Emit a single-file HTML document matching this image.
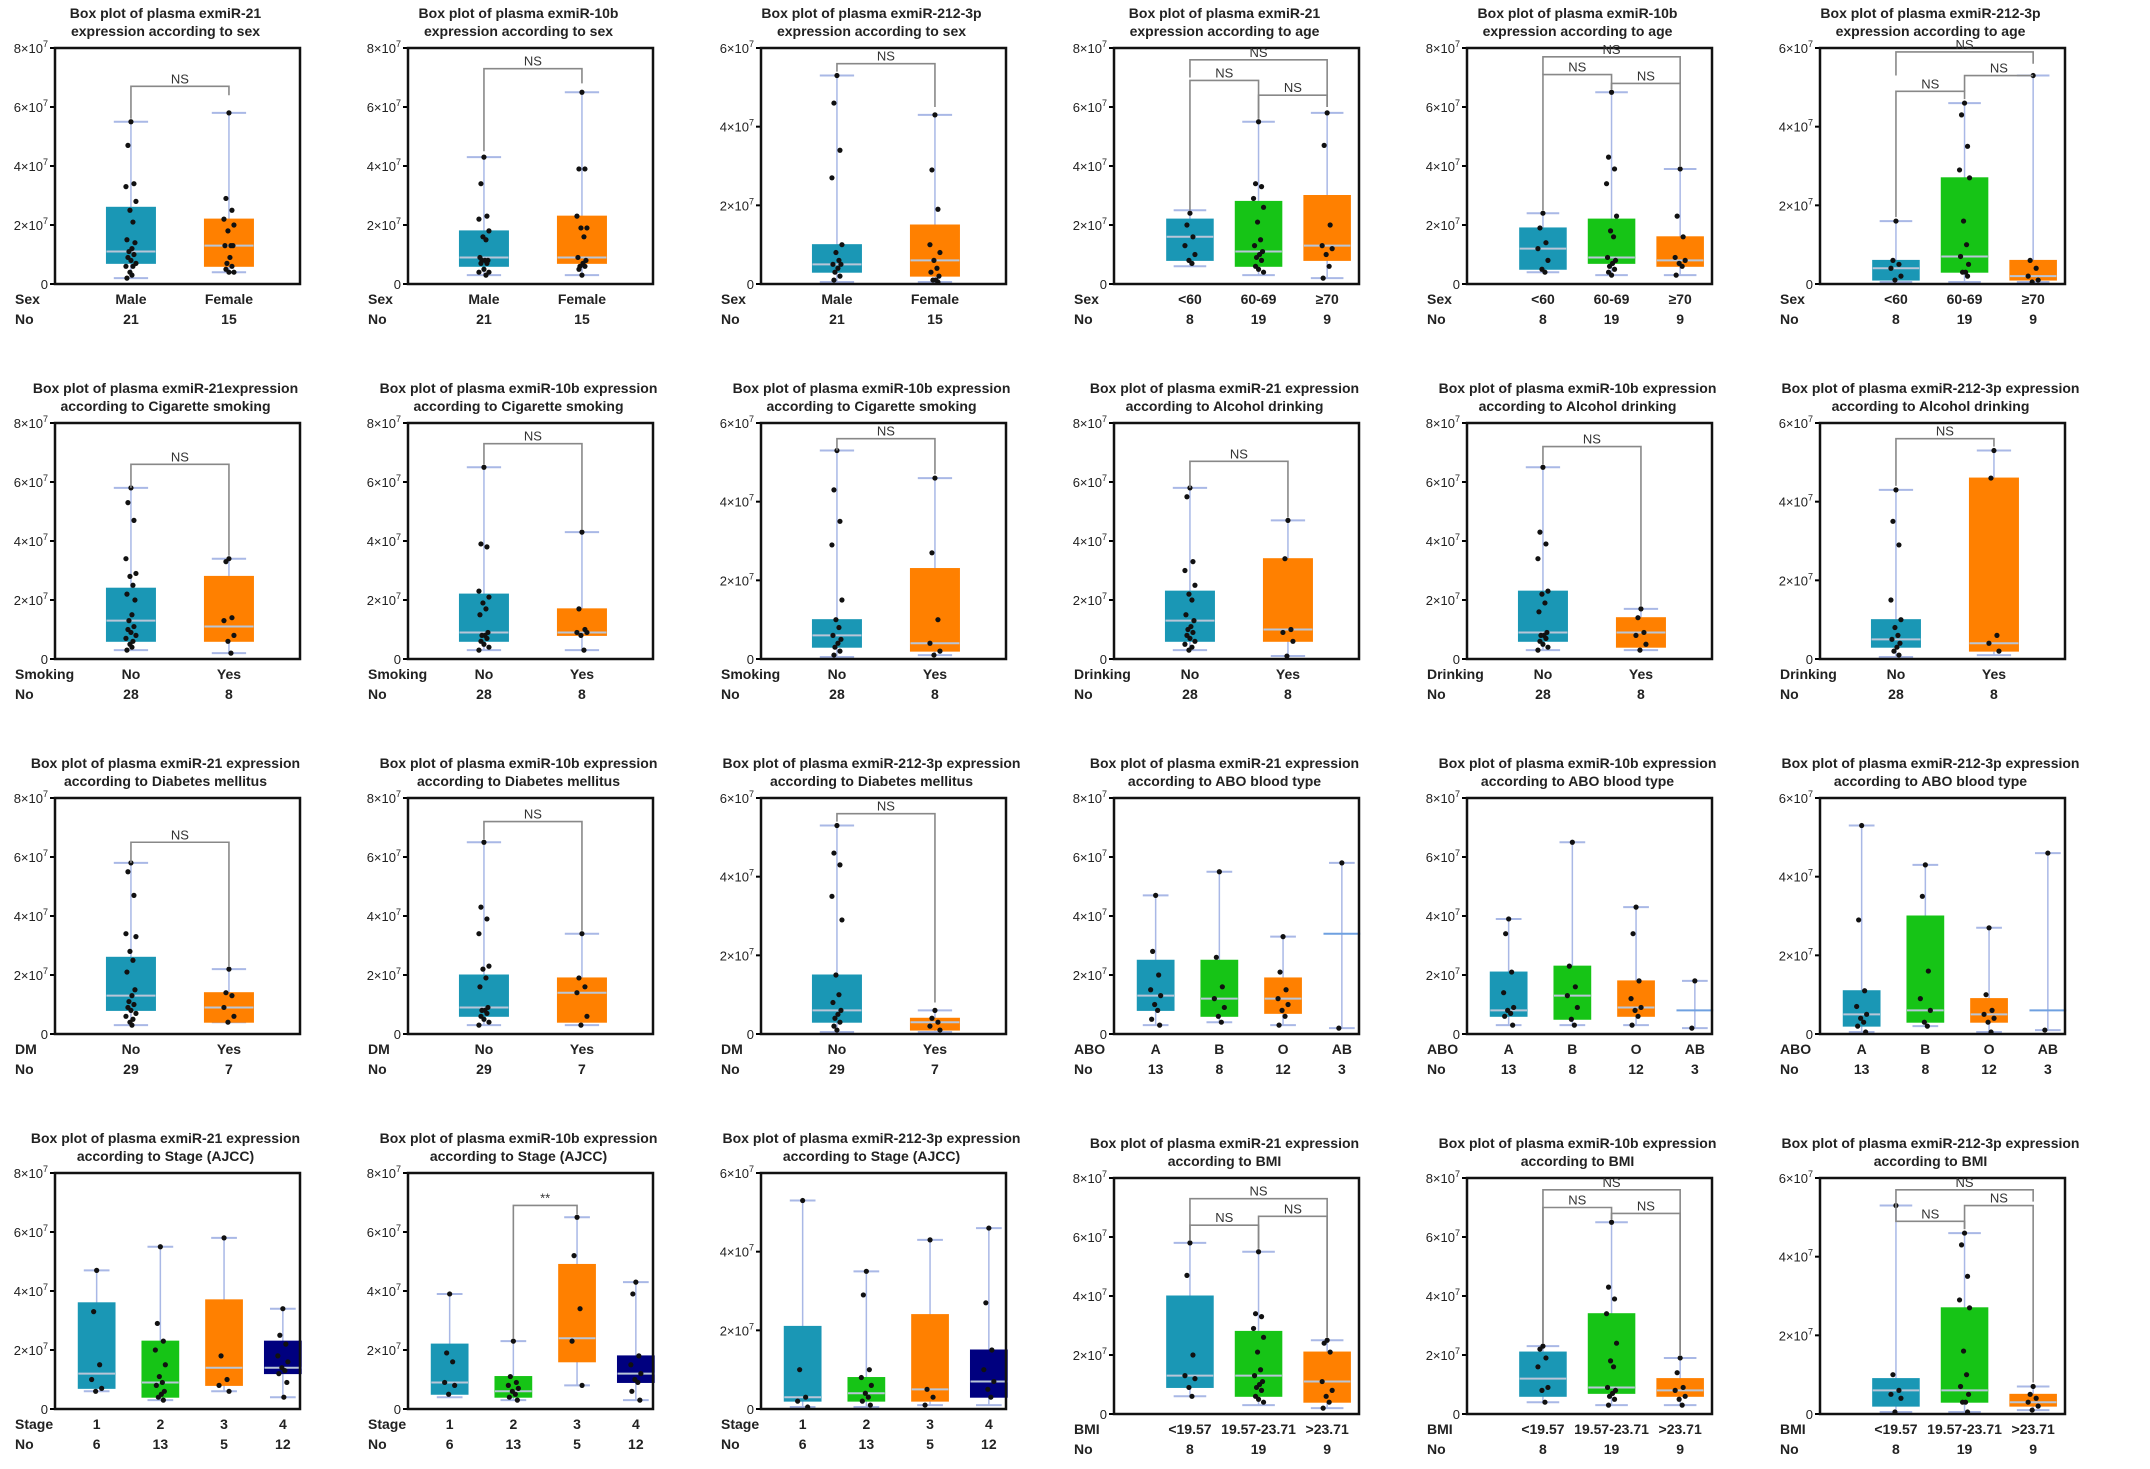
<!DOCTYPE html>
<html><head><meta charset="utf-8">
<style>
html,body{margin:0;padding:0;background:#fff;}
svg{display:block;font-family:"Liberation Sans",Arial,sans-serif;}
</style></head>
<body>
<svg id="fig" width="2150" height="1469" viewBox="0 0 2150 1469" xmlns="http://www.w3.org/2000/svg"></svg>
<script>
// ---- data (values in units of 1e7) ----
const titles = [
["Box plot of plasma exmiR-21","expression according to sex"],
["Box plot of plasma exmiR-10b","expression according to sex"],
["Box plot of plasma exmiR-212-3p","expression according to sex"],
["Box plot of plasma exmiR-21","expression according to age"],
["Box plot of plasma exmiR-10b","expression according to age"],
["Box plot of plasma exmiR-212-3p","expression according to age"],
["Box plot of plasma exmiR-21expression","according to Cigarette smoking"],
["Box plot of plasma exmiR-10b expression","according to Cigarette smoking"],
["Box plot of plasma exmiR-10b expression","according to Cigarette smoking"],
["Box plot of plasma exmiR-21 expression","according to Alcohol drinking"],
["Box plot of plasma exmiR-10b expression","according to Alcohol drinking"],
["Box plot of plasma exmiR-212-3p expression","according to Alcohol drinking"],
["Box plot of plasma exmiR-21 expression","according to Diabetes mellitus"],
["Box plot of plasma exmiR-10b expression","according to Diabetes mellitus"],
["Box plot of plasma exmiR-212-3p expression","according to Diabetes mellitus"],
["Box plot of plasma exmiR-21 expression","according to ABO blood type"],
["Box plot of plasma exmiR-10b expression","according to ABO blood type"],
["Box plot of plasma exmiR-212-3p expression","according to ABO blood type"],
["Box plot of plasma exmiR-21 expression","according to Stage  (AJCC)"],
["Box plot of plasma exmiR-10b expression","according to Stage  (AJCC)"],
["Box plot of plasma exmiR-212-3p expression","according to Stage  (AJCC)"],
["Box plot of plasma exmiR-21 expression","according to BMI"],
["Box plot of plasma exmiR-10b expression","according to BMI"],
["Box plot of plasma exmiR-212-3p expression","according to BMI"]
];
const yMaxes = [8,8,6,8,8,6, 8,8,6,8,8,6, 8,8,6,8,8,6, 8,8,6,8,8,6];
const factors = ["Sex","Sex","Sex","Sex","Sex","Sex","Smoking","Smoking","Smoking","Drinking","Drinking","Drinking","DM","DM","DM","ABO","ABO","ABO","Stage","Stage","Stage","BMI","BMI","BMI"];
const catSets = {
 sex:["Male","Female"], age:["<60","60-69","≥70"], yn:["No","Yes"], abo:["A","B","O","AB"], stage:["1","2","3","4"], bmi:["<19.57","19.57-23.71",">23.71"]
};
const panelCats = ["sex","sex","sex","age","age","age","yn","yn","yn","yn","yn","yn","yn","yn","yn","abo","abo","abo","stage","stage","stage","bmi","bmi","bmi"];
const counts = {
 sex:["21","15"], age:["8","19","9"], smk:["28","8"], dm:["29","7"], abo:["13","8","12","3"], stage:["6","13","5","12"], bmi:["8","19","9"]
};
const panelCounts = ["sex","sex","sex","age","age","age","smk","smk","smk","smk","smk","smk","dm","dm","dm","abo","abo","abo","stage","stage","stage","bmi","bmi","bmi"];
// [min, q1, median, q3, max] per group
const stats = [
 [[0.2,0.7,1.1,2.6,5.5],[0.4,0.6,1.3,2.2,5.8]],
 [[0.3,0.6,0.9,1.8,4.3],[0.3,0.7,0.9,2.3,6.5]],
 [[0.05,0.3,0.5,1.0,5.3],[0.05,0.2,0.6,1.5,4.3]],
 [[0.6,0.8,1.6,2.2,2.5],[0.3,0.6,1.1,2.8,5.5],[0.2,0.8,1.3,3.0,5.8]],
 [[0.4,0.5,1.2,1.9,2.4],[0.3,0.7,0.9,2.2,6.5],[0.3,0.6,0.8,1.6,3.9]],
 [[0.05,0.1,0.4,0.6,1.6],[0.05,0.3,0.7,2.7,4.6],[0.05,0.1,0.2,0.6,5.3]],
 [[0.3,0.6,1.3,2.4,5.8],[0.2,0.6,1.1,2.8,3.4]],
 [[0.3,0.6,0.9,2.2,6.5],[0.3,0.8,0.9,1.7,4.3]],
 [[0.05,0.3,0.6,1.0,5.3],[0.1,0.2,0.4,2.3,4.6]],
 [[0.3,0.6,1.3,2.3,5.8],[0.1,0.6,1.0,3.4,4.7]],
 [[0.3,0.6,0.9,2.3,6.5],[0.3,0.4,0.9,1.4,1.7]],
 [[0.05,0.3,0.5,1.0,4.3],[0.1,0.2,0.4,4.6,5.3]],
 [[0.3,0.8,1.3,2.6,5.8],[0.4,0.4,0.9,1.4,2.2]],
 [[0.3,0.6,0.9,2.0,6.5],[0.3,0.4,1.4,1.9,3.4]],
 [[0.05,0.3,0.6,1.5,5.3],[0.05,0.1,0.3,0.4,0.6]],
 [[0.3,0.8,1.3,2.5,4.7],[0.4,0.6,1.2,2.5,5.5],[0.3,0.7,1.2,1.9,3.3],[0.2,3.4,3.4,3.4,5.8]],
 [[0.3,0.6,0.8,2.1,3.9],[0.3,0.5,1.3,2.3,6.5],[0.3,0.6,0.9,1.8,4.3],[0.2,0.8,0.8,0.8,1.8]],
 [[0.05,0.2,0.5,1.1,5.3],[0.2,0.3,0.6,3.0,4.3],[0.05,0.3,0.5,0.9,2.7],[0.1,0.6,0.6,0.6,4.6]],
 [[0.6,0.7,1.2,3.6,4.7],[0.3,0.4,0.9,2.3,5.5],[0.6,0.8,1.4,3.7,5.8],[0.4,1.2,1.4,2.3,3.4]],
 [[0.4,0.5,0.9,2.2,3.9],[0.3,0.4,0.6,1.1,2.3],[0.8,1.6,2.4,4.9,6.5],[0.3,0.9,1.2,1.8,4.3]],
 [[0.05,0.2,0.3,2.1,5.3],[0.05,0.2,0.4,0.8,3.5],[0.1,0.2,0.5,2.4,4.3],[0.1,0.3,0.7,1.5,4.6]],
 [[0.6,0.9,1.3,4.0,5.8],[0.3,0.6,1.3,2.8,5.5],[0.2,0.4,1.1,2.1,2.5]],
 [[0.4,0.6,1.2,2.1,2.3],[0.3,0.7,0.9,3.4,6.5],[0.3,0.6,0.8,1.2,1.9]],
 [[0.05,0.2,0.6,0.9,5.3],[0.05,0.3,0.6,2.7,4.6],[0.1,0.2,0.3,0.5,0.7]]
];
// individual points per group
const points = [
 [[5.5,4.7,3.4,3.3,2.8,2.5,2.1,1.5,1.4,1.2,1.1,1.0,0.9,0.8,0.7,0.6,0.6,0.4,0.3,0.2],[5.8,2.9,2.5,2.2,2.0,1.8,1.3,1.3,1.3,0.9,0.7,0.6,0.5,0.4,0.4]],
 [[4.3,3.4,2.3,2.2,1.8,1.6,1.5,0.9,0.8,0.8,0.8,0.7,0.7,0.5,0.4,0.4,0.3],[6.5,3.9,3.9,2.3,1.9,1.9,1.6,0.9,0.8,0.7,0.6,0.6,0.5,0.3]],
 [[5.3,4.6,3.4,2.7,1.0,0.8,0.6,0.5,0.5,0.4,0.3,0.2,0.1],[4.3,2.9,1.9,1.0,0.8,0.6,0.4,0.3,0.2,0.1,0.1,0.05]],
 [[2.4,2.0,1.6,1.3,1.0,0.8,0.7],[5.5,3.4,3.3,2.9,2.6,2.1,1.5,1.3,1.1,1.0,0.9,0.8,0.6,0.5,0.4],[5.8,4.7,2.0,1.3,1.2,1.0,0.6,0.2]],
 [[2.4,1.9,1.4,1.2,0.8,0.5,0.4],[6.5,4.3,3.9,3.4,2.3,1.8,1.6,0.9,0.8,0.7,0.6,0.5,0.4,0.3],[3.9,2.3,1.6,0.9,0.8,0.7,0.6,0.3]],
 [[1.6,0.6,0.5,0.4,0.2,0.1],[4.6,4.3,3.5,2.9,2.7,1.6,1.0,0.7,0.5,0.3,0.3,0.2],[5.3,0.6,0.4,0.2,0.1,0.05]],
 [[5.8,5.3,4.7,3.4,2.9,2.8,2.5,2.2,2.0,1.5,1.3,1.1,1.0,0.9,0.8,0.7,0.6,0.5,0.4,0.3],[3.4,3.3,1.4,1.3,0.8,0.6,0.2]],
 [[6.5,3.9,3.8,2.3,2.1,1.9,1.7,1.5,0.9,0.8,0.8,0.7,0.6,0.5,0.4,0.3],[4.3,1.7,1.0,0.9,0.9,0.8,0.3]],
 [[5.3,4.3,3.5,2.9,1.5,1.0,0.8,0.6,0.5,0.4,0.3,0.2,0.1],[4.6,2.7,1.0,0.4,0.2,0.1]],
 [[5.8,5.5,3.3,3.0,2.5,2.2,2.0,1.5,1.3,1.1,1.0,0.9,0.8,0.7,0.6,0.5,0.4,0.3],[4.7,3.4,1.0,0.9,0.6,0.1]],
 [[6.5,4.3,3.9,3.4,2.3,2.2,1.9,1.6,0.9,0.8,0.8,0.7,0.6,0.5,0.4,0.3],[1.7,1.4,0.9,0.8,0.5,0.3]],
 [[4.3,3.5,2.9,1.5,1.0,0.8,0.6,0.5,0.4,0.3,0.2,0.1],[5.3,4.6,0.6,0.4,0.2]],
 [[5.8,5.5,4.7,3.4,3.3,2.8,2.5,2.1,1.5,1.3,1.1,1.0,0.9,0.8,0.7,0.6,0.5,0.4,0.3],[2.2,1.4,1.3,0.9,0.6,0.4]],
 [[6.5,4.3,3.9,3.4,2.3,2.2,1.9,1.6,0.9,0.8,0.8,0.7,0.6,0.5,0.4,0.3],[3.4,1.9,1.6,1.4,0.6,0.3]],
 [[5.3,4.6,4.3,3.5,2.9,1.5,1.0,0.8,0.6,0.5,0.4,0.3,0.2,0.1],[0.6,0.4,0.3,0.2,0.1]],
 [[4.7,2.8,2.0,1.5,1.3,1.0,0.8,0.5,0.3],[5.5,2.6,1.6,1.2,0.9,0.6,0.4],[3.3,2.1,1.5,1.2,1.0,0.8,0.6,0.3],[5.8,0.2]],
 [[3.9,3.4,2.1,1.4,0.9,0.8,0.7,0.6,0.3],[6.5,2.3,1.6,1.3,0.9,0.5,0.3],[4.3,3.4,1.8,1.2,0.9,0.8,0.6,0.3],[1.8,0.2]],
 [[5.3,2.9,1.1,0.7,0.5,0.4,0.3,0.2,0.05],[4.3,3.5,1.6,0.9,0.6,0.3,0.2],[2.7,1.0,0.6,0.5,0.4,0.3,0.05],[4.6,0.1]],
 [[4.7,3.3,1.5,1.0,0.7,0.6],[5.5,2.9,2.3,2.0,1.5,1.1,0.9,0.8,0.6,0.5,0.4,0.3],[5.8,1.8,1.0,0.8,0.6],[3.4,2.5,2.2,1.8,1.6,1.4,1.3,1.2,0.9,0.4]],
 [[3.9,1.9,1.6,0.9,0.8,0.5],[2.3,1.1,0.9,0.8,0.7,0.6,0.5,0.4,0.3],[6.5,5.2,3.4,2.3,0.8],[4.3,3.9,1.8,1.5,1.2,1.0,0.9,0.6,0.3]],
 [[5.3,1.0,0.3,0.2,0.05],[3.5,2.9,1.0,0.8,0.6,0.4,0.3,0.2,0.1],[4.3,0.5,0.3,0.1],[4.6,2.7,1.5,1.0,0.7,0.5,0.3]],
 [[5.8,4.7,2.0,1.3,1.2,0.9,0.6],[5.5,3.4,3.3,2.9,2.6,2.1,1.5,1.3,1.1,1.0,0.9,0.8,0.6,0.5,0.4],[2.5,2.4,2.1,1.1,0.8,0.6,0.4,0.2]],
 [[2.3,2.2,1.9,1.6,0.9,0.8,0.4],[6.5,4.3,3.9,3.4,2.4,1.8,1.6,0.9,0.8,0.7,0.6,0.5,0.3],[1.9,1.4,0.9,0.8,0.6,0.5,0.3]],
 [[5.3,1.0,0.6,0.5,0.4,0.05],[4.6,4.3,3.5,2.9,2.7,1.6,1.0,0.7,0.5,0.3,0.3,0.05],[0.7,0.5,0.4,0.3,0.2,0.1]]
];
// significance brackets: [fromGroup, toGroup, y, leftLegBottom, rightLegBottom, label]
const brackets = [
 [[0,1,6.7,5.6,6.4,"NS"]],
 [[0,1,7.3,4.5,6.8,"NS"]],
 [[0,1,5.6,5.4,4.5,"NS"]],
 [[0,2,7.6,7.0,6.0,"NS"],[0,1,6.9,2.5,5.6,"NS"],[1,2,6.4,5.6,6.0,"NS"]],
 [[0,2,7.7,7.1,6.8,"NS"],[0,1,7.1,2.5,6.6,"NS"],[1,2,6.8,6.6,4.0,"NS"]],
 [[0,2,5.9,5.3,5.6,"NS"],[0,1,4.9,1.7,4.7,"NS"],[1,2,5.3,4.9,5.3,"NS"]],
 [[0,1,6.6,5.8,3.5,"NS"]],
 [[0,1,7.3,6.6,4.4,"NS"]],
 [[0,1,5.6,5.3,4.7,"NS"]],
 [[0,1,6.7,5.8,4.8,"NS"]],
 [[0,1,7.2,6.6,1.8,"NS"]],
 [[0,1,5.6,4.4,5.4,"NS"]],
 [[0,1,6.5,5.8,2.3,"NS"]],
 [[0,1,7.2,6.6,3.5,"NS"]],
 [[0,1,5.6,5.4,0.8,"NS"]],
 [],[],[],
 [],
 [[1,2,6.9,2.4,6.6,"**"]],
 [],
 [[0,2,7.3,5.9,2.6,"NS"],[0,1,6.4,5.9,5.6,"NS"],[1,2,6.7,5.6,2.6,"NS"]],
 [[0,2,7.6,2.4,2.0,"NS"],[0,1,7.0,2.4,6.6,"NS"],[1,2,6.8,6.6,2.0,"NS"]],
 [[0,2,5.7,5.3,5.4,"NS"],[0,1,4.9,5.3,4.7,"NS"],[1,2,5.3,4.7,0.8,"NS"]]
];
const colorSets = {
 sex:["#1a97b5","#ff8000"], age:["#1a97b5","#16c416","#ff8000"], yn:["#1a97b5","#ff8000"],
 abo:["#1a97b5","#16c416","#ff8000","#6fa0e0"], stage:["#1a97b5","#16c416","#ff8000","#00007f"], bmi:["#1a97b5","#16c416","#ff8000"]
};
const yTickValues = {8:[0,2,4,6,8], 6:[0,2,4,6]};
const catPos = {2:[0.31,0.71], 3:[0.31,0.59,0.87], 4:[0.17,0.43,0.69,0.93]};
const boxWidthFrac = {2:0.2, 3:0.19, 4:0.15};
const jitter = [0,-3,3,-5,5,-1,2,-4,4,1,-2,3,-3,0,5,-5,2,-1,1,-4];

// ---- drawing ----
const NS = "http://www.w3.org/2000/svg";
const svg = document.getElementById("fig");
function mk(tag, attrs, parent){
  const e = document.createElementNS(NS, tag);
  for (const k in attrs) e.setAttribute(k, attrs[k]);
  (parent||svg).appendChild(e);
  return e;
}
const PW = 245, PH = 236;
for (let p = 0; p < 24; p++){
  const col = p % 6, row = Math.floor(p / 6);
  const L = 55 + 353*col, T = 48 + 375*row + (p>=21 ? 5 : 0);
  const ymax = yMaxes[p];
  const g = mk("g", {});
  
  
  const ys = v => T + PH - v/ymax*PH;
  const cats = catSets[panelCats[p]];
  const n = cats.length;
  const xs = i => L + catPos[n][i]*PW;
  const bw = boxWidthFrac[n]*PW;
  const cols = colorSets[panelCats[p]];
  titles[p].forEach((t, i) => {
    const tx = mk("text", {x: L + PW/2 - 12, y: T - 30 + i*18, "text-anchor":"middle", "font-size":"14", "font-weight":"bold", fill:"#222"}, g);
    tx.textContent = t;
    
    
  });
  yTickValues[ymax].forEach(v => {
    const y = ys(v);
    const tk = mk("line", {x1:L-5, x2:L, y1:y, y2:y, stroke:"#000", "stroke-width":2}, g);
    
    
    const lb = mk("text", {x:L-7, y:y+5, "text-anchor":"end", "font-size":"13", fill:"#222"}, g);
    
    
    if (v === 0) lb.textContent = "0";
    else { lb.textContent = v + "×10"; const sp = mk("tspan", {dy:-6, "font-size":"9"}, lb); sp.textContent = "7"; }
  });
  for (let i = 0; i < n; i++){
    const s = stats[p][i], cx = xs(i);
    const wh = mk("line", {x1:cx, x2:cx, y1:ys(s[0]), y2:ys(s[4]), stroke:"#a9b8e6", "stroke-width":1.5}, g);
    
    
    [s[0], s[4]].forEach(v => {
      const cp = mk("line", {x1:cx-bw*0.35, x2:cx+bw*0.35, y1:ys(v), y2:ys(v), stroke:"#a9b8e6", "stroke-width":2}, g);
      
      
    });
    if (s[3] > s[1]){
      const bx = mk("rect", {x:cx-bw/2, y:ys(s[3]), width:bw, height:ys(s[1])-ys(s[3]), fill:cols[i], stroke:cols[i]}, g);
      
      
    }
    const md = mk("line", {x1:cx-bw/2, x2:cx+bw/2, y1:ys(s[2]), y2:ys(s[2]), stroke: s[3]>s[1] ? "#b9c6d8" : "#6fa0e0", "stroke-width":2}, g);
    
    
    points[p][i].forEach((v, k) => {
      const dt = mk("circle", {cx: cx + jitter[k % jitter.length], cy: ys(v), r: 2.6, fill:"#111"}, g);
      
      
    });
    const cl = mk("text", {x:cx, y:T+PH+20, "text-anchor":"middle", "font-size":"14", "font-weight":"bold", fill:"#222"}, g);
    cl.textContent = cats[i];
    
    
    const nl = mk("text", {x:cx, y:T+PH+40, "text-anchor":"middle", "font-size":"14", "font-weight":"bold", fill:"#222"}, g);
    nl.textContent = counts[panelCounts[p]][i];
    
    
  }
  const fr = mk("rect", {x:L, y:T, width:PW, height:PH, fill:"none", stroke:"#111", "stroke-width":2.5}, g);
  
  
  const fl = mk("text", {x:L-40, y:T+PH+20, "font-size":"14", "font-weight":"bold", fill:"#222"}, g);
  fl.textContent = factors[p];
  
  
  const nol = mk("text", {x:L-40, y:T+PH+40, "font-size":"14", "font-weight":"bold", fill:"#222"}, g);
  nol.textContent = "No";
  
  
  brackets[p].forEach(b => {
    const x1 = xs(b[0]), x2 = xs(b[1]), y = ys(b[2]);
    const br = mk("path", {d:`M${x1},${ys(b[3])}V${y}H${x2}V${ys(b[4])}`, fill:"none", stroke:"#888", "stroke-width":1.6}, g);
    
    
    const bt = mk("text", {x:(x1+x2)/2, y:y-3, "text-anchor":"middle", "font-size":"13", fill:"#333"}, g);
    bt.textContent = b[5];
    
    
  });
}
</script>
</body></html>
